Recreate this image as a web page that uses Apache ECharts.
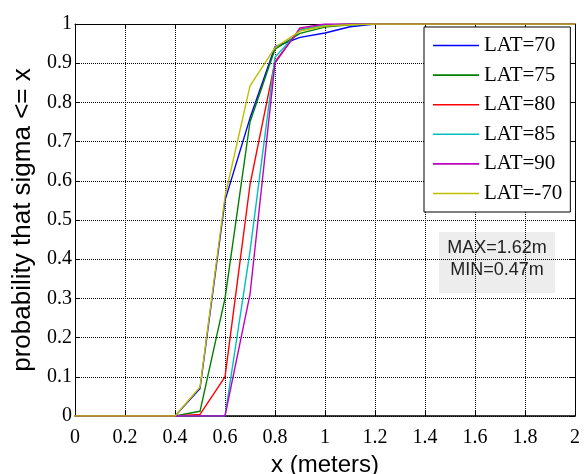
<!DOCTYPE html>
<html>
<head>
<meta charset="utf-8">
<script src="https://cdn.jsdelivr.net/npm/echarts@6/dist/echarts.min.js"></script>
<style>
html,body{margin:0;padding:0;background:#fff;}
#c{width:588px;height:474px;}
</style>
</head>
<body>
<div id="c"></div>
<script>
const xValues = [0,0.1,0.2,0.3,0.4,0.5,0.6,0.7,0.8,0.9,1.0,1.1,1.2,1.3,1.4,1.5,1.6,1.7,1.8,1.9,2.0];
const lat70  = [0,0,0,0,0,0.07,0.55,0.76,0.942,0.966,0.977,0.993,1,1,1,1,1,1,1,1,1];
const lat75  = [0,0,0,0,0,0.012,0.30,0.75,0.936,0.976,0.992,0.998,1,1,1,1,1,1,1,1,1];
const lat80  = [0,0,0,0,0,0.004,0.10,0.59,0.904,0.987,0.997,1,1,1,1,1,1,1,1,1,1];
const lat85  = [0,0,0,0,0,0,0,0.42,0.915,0.985,0.997,1,1,1,1,1,1,1,1,1,1];
const lat90  = [0,0,0,0,0,0,0,0.31,0.90,0.99,1,1,1,1,1,1,1,1,1,1,1];
const latM70 = [0,0,0,0,0,0.074,0.56,0.842,0.94,0.982,0.995,0.998,1,1,1,1,1,1,1,1,1];
const seriesNames = ['LAT=70','LAT=75','LAT=80','LAT=85','LAT=90','LAT=-70'];
const seriesValues = [lat70, lat75, lat80, lat85, lat90, latM70];
const seriesColors = ['#0000ff','#008000','#ff0000','#00bfbf','#bf00bf','#bfbf00'];
const statsText = ['MAX=1.62m','MIN=0.47m'];
const xTitle = 'x (meters)';
const yTitle = 'probability that sigma <= x';

const chart = echarts.init(document.getElementById('c'), null, {renderer:'canvas'});
const sans = 'Liberation Sans';
const serif = 'Liberation Serif';

const series = seriesNames.map((n,i)=>({
  name:n, type:'line', xAxisIndex:0, yAxisIndex:0,
  data: xValues.map((x,j)=>[x, seriesValues[i][j]]),
  symbol:'none', showSymbol:false,
  lineStyle:{color:seriesColors[i], width:1.4},
  itemStyle:{color:seriesColors[i]},
  animation:false, z:2+i
}));

chart.setOption({
  animation:false,
  backgroundColor:'#fff',
  textStyle:{fontFamily:serif},
  grid:{left:75, right:13, top:24, bottom:58, containLabel:false, outerBoundsMode:'none'},
  graphic:[{
    type:'group', left:439, top:232, z:100,
    children:[
      {type:'rect', shape:{x:0, y:0, width:116, height:61}, style:{fill:'#ededed'}},
      {type:'text', x:58, y:16, style:{text:statsText[0], fill:'#222', fontFamily:sans, fontSize:18, align:'center', verticalAlign:'middle'}},
      {type:'text', x:58, y:38, style:{text:statsText[1], fill:'#222', fontFamily:sans, fontSize:18, align:'center', verticalAlign:'middle'}}
    ]
  }],
  legend:{
    data: seriesNames,
    orient:'vertical',
    left:424, top:27,
    padding:[8,8,8,9],
    itemGap:8.6,
    itemWidth:46, itemHeight:1.6,
    itemTextGap:4,
    icon:'rect',
    backgroundColor:'#fff',
    borderColor:'#000', borderWidth:1,
    borderRadius:0,
    textStyle:{fontFamily:serif, fontSize:21, color:'#000', lineHeight:21}
  },
  xAxis:[{
    type:'value', min:0, max:2, interval:0.2, position:'bottom',
    name:xTitle, nameLocation:'middle', nameGap:37,
    nameTextStyle:{fontFamily:sans, fontSize:24, color:'#000'},
    axisLine:{show:true, onZero:false, lineStyle:{color:'#000', width:1.5}},
    axisTick:{show:true, inside:true, length:5, lineStyle:{color:'#000'}},
    axisLabel:{fontFamily:serif, fontSize:20, color:'#000', margin:12},
    splitLine:{show:true, lineStyle:{type:'dotted', color:'#000', width:1}}
  },{
    type:'value', min:0, max:2, interval:0.2, position:'top',
    axisLine:{show:true, onZero:false, lineStyle:{color:'#000', width:1}},
    axisTick:{show:true, inside:true, length:5, lineStyle:{color:'#000'}},
    axisLabel:{show:false}, splitLine:{show:false}
  }],
  yAxis:[{
    type:'value', min:0, max:1, interval:0.1, position:'left',
    name:yTitle, nameLocation:'middle', nameGap:36, nameRotate:90,
    nameTextStyle:{fontFamily:sans, fontSize:26, color:'#000'},
    axisLine:{show:true, onZero:false, lineStyle:{color:'#000', width:1}},
    axisTick:{show:true, inside:true, length:5, lineStyle:{color:'#000'}},
    axisLabel:{fontFamily:serif, fontSize:20, color:'#000', margin:3},
    splitLine:{show:true, lineStyle:{type:'dotted', color:'#000', width:1}}
  },{
    type:'value', min:0, max:1, interval:0.1, position:'right',
    axisLine:{show:true, onZero:false, lineStyle:{color:'#000', width:1}},
    axisTick:{show:true, inside:true, length:5, lineStyle:{color:'#000'}},
    axisLabel:{show:false}, splitLine:{show:false}
  }],
  series: series
});
</script>
</body>
</html>
